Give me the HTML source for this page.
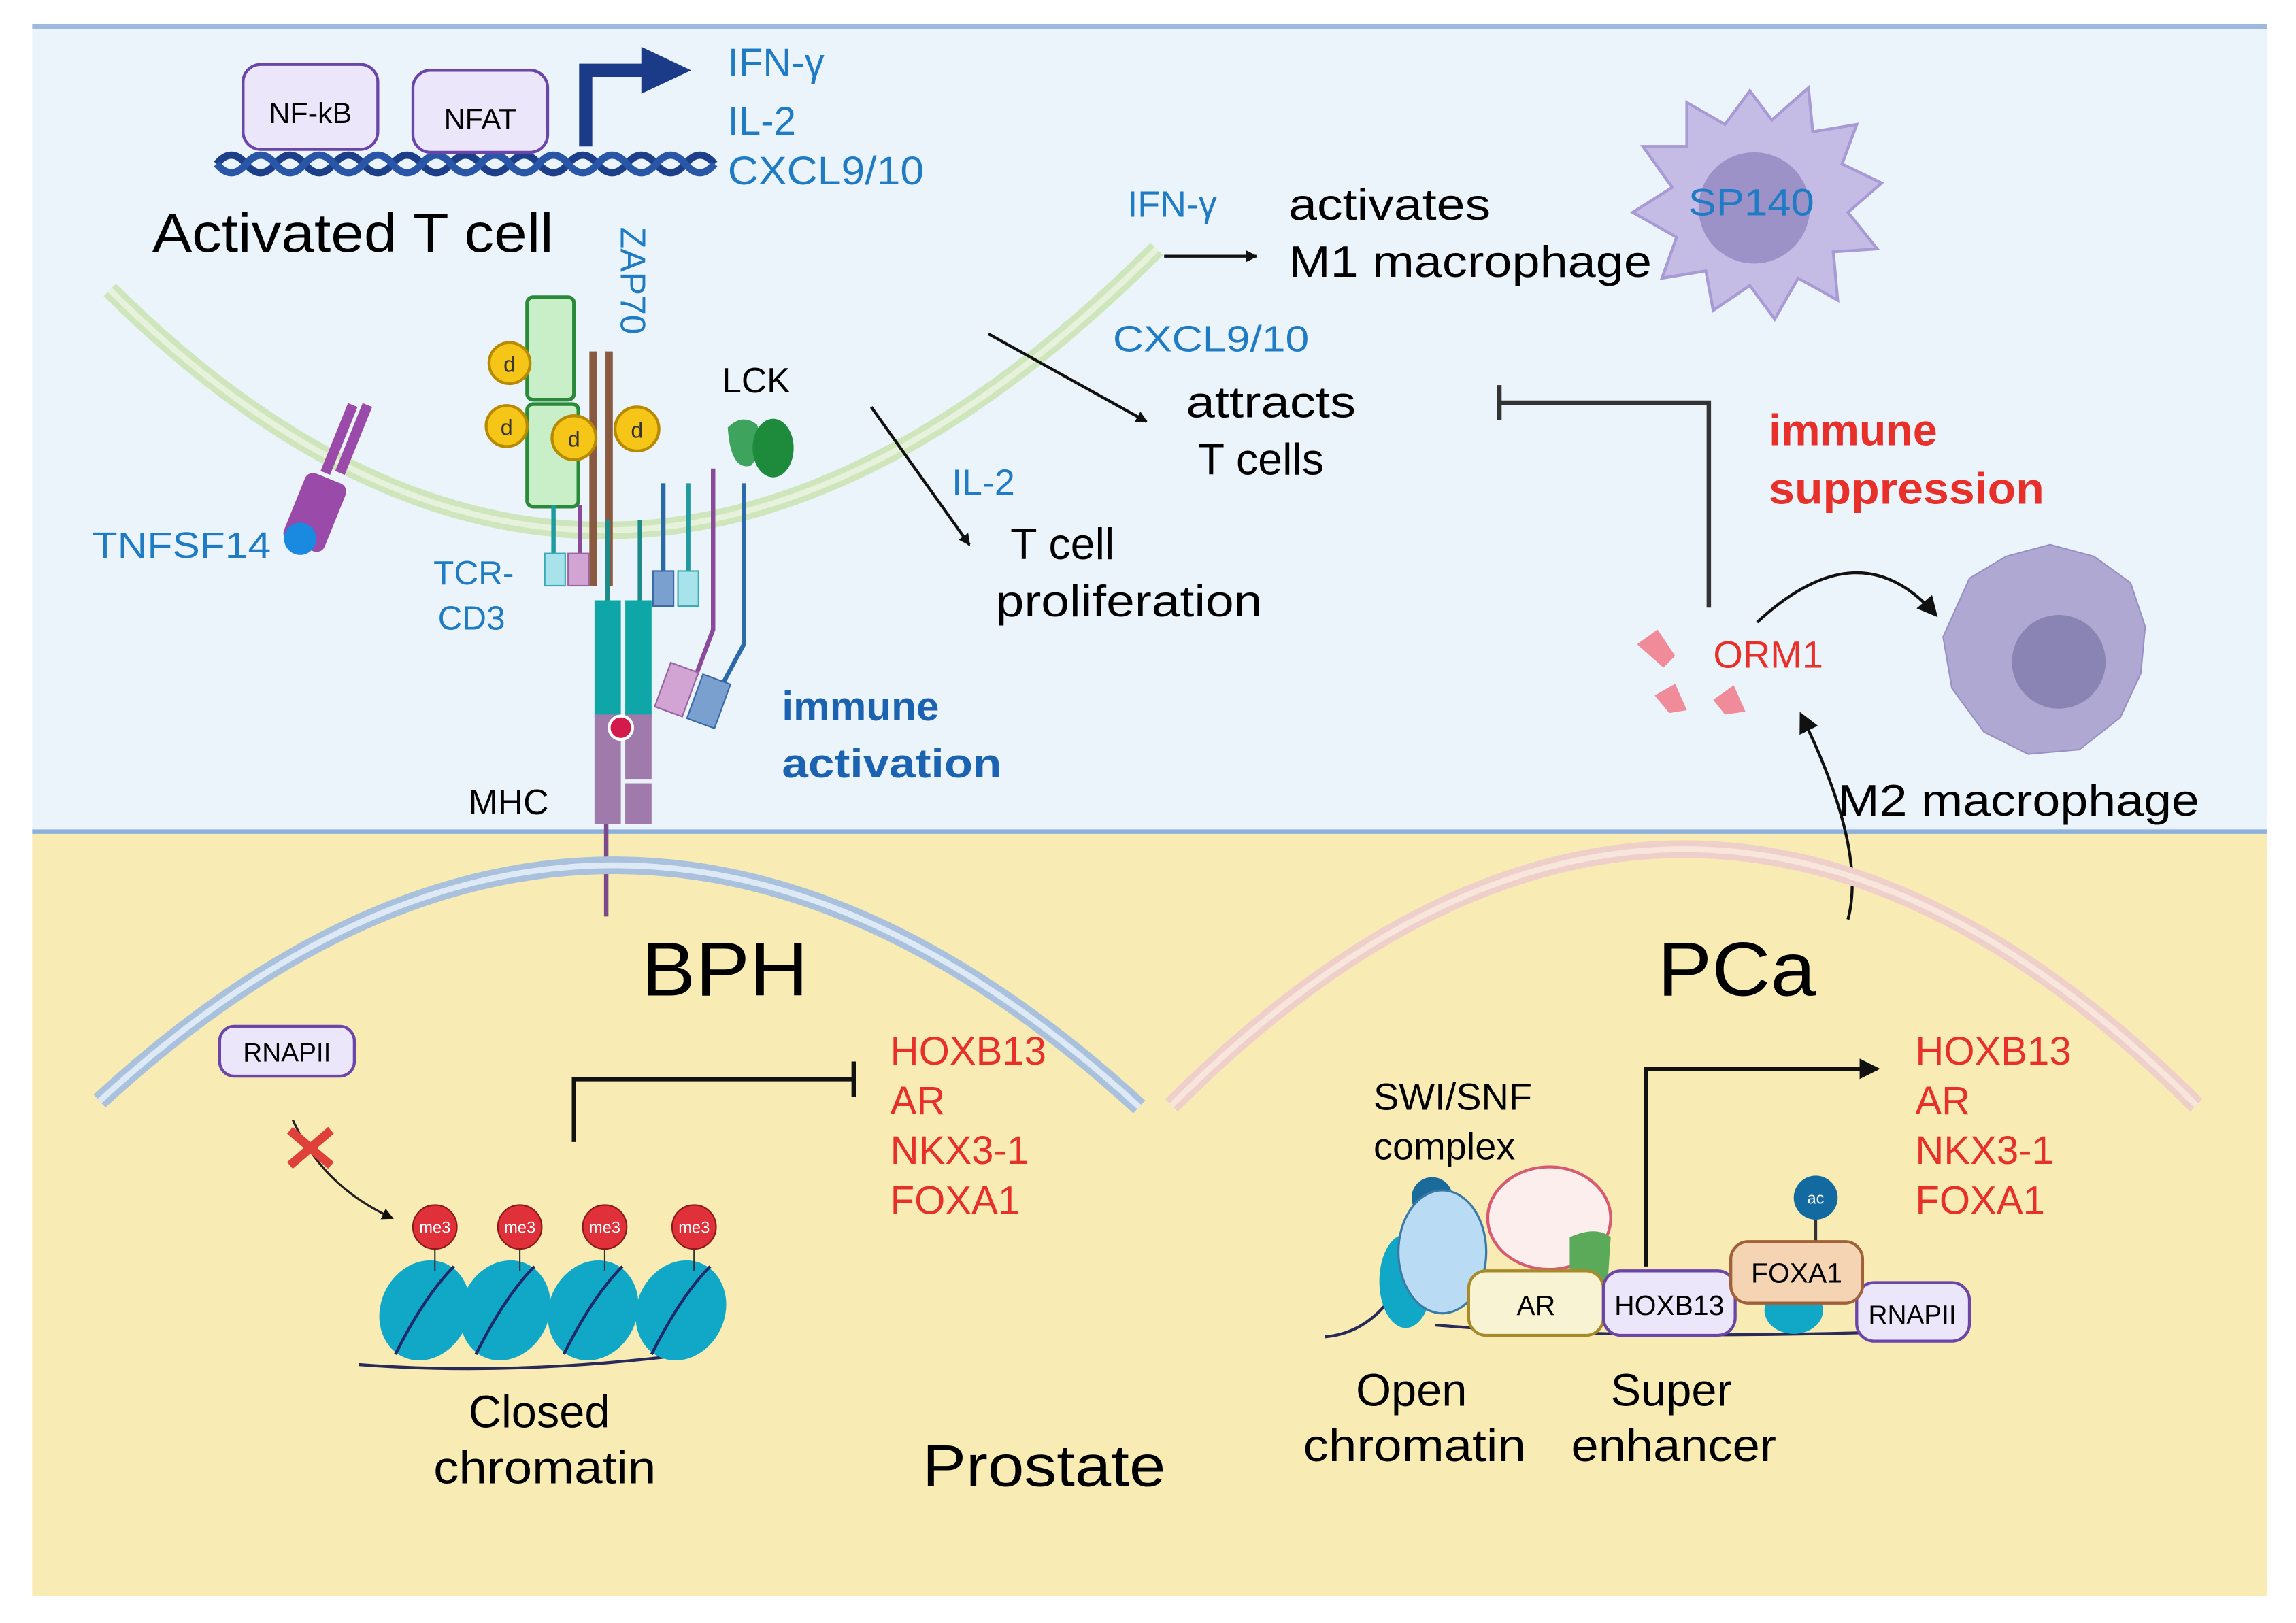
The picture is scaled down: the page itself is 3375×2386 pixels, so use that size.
<!DOCTYPE html>
<html><head><meta charset="utf-8"><style>html,body{margin:0;padding:0;background:#fff}svg{display:block}text{font-family:"Liberation Sans",sans-serif}</style></head><body>
<svg width="3375" height="2386" viewBox="0 0 1568 1108.5" xmlns="http://www.w3.org/2000/svg">
<defs><marker id="ah" markerWidth="8" markerHeight="8" refX="7" refY="4" orient="auto" markerUnits="userSpaceOnUse"><path d="M0,0 L8,4 L0,8 z" fill="#111"/></marker>
<marker id="ah2" markerWidth="14" markerHeight="14" refX="12" refY="7" orient="auto" markerUnits="userSpaceOnUse"><path d="M0,0 L14,7 L0,14 z" fill="#111"/></marker></defs>
<rect x="0" y="0" width="1568" height="1108.5" fill="#fff"/>
<rect x="22" y="18" width="1526" height="550" fill="#ebf3fb"/>
<rect x="22" y="568" width="1526" height="522" fill="#f8ebb3"/>
<line x1="22" y1="18" x2="1548" y2="18" stroke="#9db9dd" stroke-width="3"/>
<line x1="22" y1="568" x2="1548" y2="568" stroke="#8fb0dc" stroke-width="3"/>
<!-- DNA -->
<path d="M148,112 q10,-12 20,0 t20,0 t20,0 t20,0 t20,0 t20,0 t20,0 t20,0 t20,0 t20,0 t20,0 t20,0 t20,0 t20,0 t20,0 t20,0 t20,0" fill="none" stroke="#1d3f8a" stroke-width="5"/>
<path d="M148,112 q10,12 20,0 t20,0 t20,0 t20,0 t20,0 t20,0 t20,0 t20,0 t20,0 t20,0 t20,0 t20,0 t20,0 t20,0 t20,0 t20,0 t20,0" fill="none" stroke="#2a56a8" stroke-width="5"/>
<rect x="166" y="44" width="92" height="58" rx="12" fill="#ece6fb" stroke="#6a46a8" stroke-width="2"/>
<text x="212" y="84" font-size="20" text-anchor="middle">NF-kB</text>
<rect x="282" y="48" width="92" height="56" rx="12" fill="#ece6fb" stroke="#6a46a8" stroke-width="2"/>
<text x="328" y="88" font-size="20" text-anchor="middle">NFAT</text>
<path d="M400,100 V48 H440" fill="none" stroke="#1b3a87" stroke-width="9"/>
<path d="M438,32 L472,48 L438,64 z" fill="#1b3a87"/>
<g fill="#1f7cc4" font-size="27"><text x="497" y="52">IFN-γ</text><text x="497" y="92">IL-2</text><text x="497" y="126" textLength="134" lengthAdjust="spacingAndGlyphs">CXCL9/10</text></g>
<text x="104" y="172" font-size="37" textLength="274" lengthAdjust="spacingAndGlyphs">Activated T cell</text>
<!-- membrane -->
<path d="M75,198 Q420,540 790,170" fill="none" stroke="#cfe6bd" stroke-width="12"/>
<path d="M75,198 Q420,540 790,170" fill="none" stroke="#e6f2dc" stroke-width="4"/>
<!-- TCR stuff -->
<rect x="360" y="203" width="32" height="70" rx="4" fill="#c9efc9" stroke="#2a8a3a" stroke-width="2.5"/>
<rect x="360" y="276" width="35" height="70" rx="4" fill="#c9efc9" stroke="#2a8a3a" stroke-width="2.5"/>
<line x1="405" y1="240" x2="405" y2="400" stroke="#8a5a40" stroke-width="5"/>
<line x1="416" y1="240" x2="416" y2="400" stroke="#8a5a40" stroke-width="5"/>
<g fill="#f5c518" stroke="#b78a00" stroke-width="2"><circle cx="348" cy="248" r="14"/><circle cx="346" cy="291" r="14"/><circle cx="392" cy="299" r="15"/><circle cx="435" cy="293" r="15"/></g>
<g font-size="15" text-anchor="middle" fill="#333"><text x="348" y="254">d</text><text x="346" y="297">d</text><text x="392" y="305">d</text><text x="435" y="299">d</text></g>
<text transform="translate(424,155) rotate(90)" font-size="24" fill="#1f7cc4">ZAP70</text>
<text x="493" y="268" font-size="24">LCK</text>
<path d="M497,292 q10,-10 20,-2 q6,15 -4,28 q-14,4 -16,-26z" fill="#3da35d"/>
<ellipse cx="528" cy="306" rx="14" ry="20" fill="#1e8a3c"/>
<line x1="378" y1="345" x2="378" y2="380" stroke="#1e9aa0" stroke-width="3"/>
<line x1="396" y1="345" x2="396" y2="380" stroke="#8a4a9a" stroke-width="3"/>
<rect x="372" y="378" width="14" height="22" fill="#a8e2ea" stroke="#3aaab4"/>
<rect x="388" y="378" width="14" height="22" fill="#d1a4d4" stroke="#9a64a4"/>
<line x1="453" y1="330" x2="453" y2="392" stroke="#2b6aa8" stroke-width="3"/>
<line x1="470" y1="330" x2="470" y2="392" stroke="#1e9aa0" stroke-width="3"/>
<rect x="446" y="390" width="14" height="24" fill="#7aa0d0" stroke="#3a6aa8"/>
<rect x="463" y="390" width="14" height="24" fill="#a8e2ea" stroke="#3aaab4"/>
<path d="M487,320 V430 L475,462" fill="none" stroke="#8a4a9a" stroke-width="3"/>
<path d="M508,330 V440 L492,470" fill="none" stroke="#2b6aa8" stroke-width="3"/>
<rect x="452" y="455" width="20" height="32" fill="#d1a4d4" stroke="#9a64a4" transform="rotate(20 462 471)"/>
<rect x="474" y="463" width="20" height="32" fill="#7aa0d0" stroke="#3a6aa8" transform="rotate(20 484 479)"/>
<line x1="415" y1="355" x2="415" y2="410" stroke="#1e8a8a" stroke-width="3"/>
<line x1="437" y1="355" x2="437" y2="410" stroke="#1e8a8a" stroke-width="3"/>
<rect x="406" y="410" width="18" height="80" fill="#0ea6a6"/>
<rect x="427" y="410" width="18" height="80" fill="#0ea6a6"/>
<rect x="406" y="488" width="18" height="75" fill="#a07aaa"/>
<rect x="427" y="488" width="18" height="44" fill="#a07aaa"/>
<rect x="427" y="535" width="18" height="28" fill="#a07aaa"/>
<circle cx="424" cy="497" r="8" fill="#d41a4a" stroke="#fff" stroke-width="2"/>
<line x1="414" y1="563" x2="414" y2="626" stroke="#7a4a8a" stroke-width="3"/>
<text x="320" y="556" font-size="24">MHC</text>
<g fill="#1f7cc4" font-size="23"><text x="296" y="399">TCR-</text><text x="299" y="430">CD3</text></g>
<g fill="#9a4aa8"><rect x="228" y="275" width="7" height="50" transform="rotate(22 232 300)"/><rect x="238" y="275" width="7" height="50" transform="rotate(22 242 300)"/><rect x="200" y="325" width="30" height="50" rx="6" transform="rotate(22 215 350)"/></g>
<circle cx="205" cy="368" r="11" fill="#1a8ae0"/>
<text x="63" y="381" font-size="25" fill="#1f7cc4" textLength="122" lengthAdjust="spacingAndGlyphs">TNFSF14</text>
<g font-size="28" font-weight="bold" fill="#1b62b0"><text x="534" y="492">immune</text><text x="534" y="531" textLength="150" lengthAdjust="spacingAndGlyphs">activation</text></g>
<!-- arrows -->
<text x="770" y="148" font-size="25" fill="#1f7cc4">IFN-γ</text>
<line x1="795" y1="175" x2="858" y2="175" stroke="#111" stroke-width="2" marker-end="url(#ah)"/>
<g font-size="30"><text x="880" y="150" textLength="138" lengthAdjust="spacingAndGlyphs">activates</text><text x="880" y="189" textLength="248" lengthAdjust="spacingAndGlyphs">M1 macrophage</text></g>
<text x="760" y="240" font-size="25" fill="#1f7cc4" textLength="134" lengthAdjust="spacingAndGlyphs">CXCL9/10</text>
<line x1="675" y1="228" x2="783" y2="288" stroke="#111" stroke-width="2" marker-end="url(#ah)"/>
<g font-size="30"><text x="810" y="285" textLength="116" lengthAdjust="spacingAndGlyphs">attracts</text><text x="818" y="324">T cells</text></g>
<text x="650" y="338" font-size="25" fill="#1f7cc4">IL-2</text>
<line x1="595" y1="278" x2="662" y2="372" stroke="#111" stroke-width="2" marker-end="url(#ah)"/>
<g font-size="30"><text x="690" y="382">T cell</text><text x="680" y="421" textLength="182" lengthAdjust="spacingAndGlyphs">proliferation</text></g>
<!-- SP140 cell -->
<path d="M1195,62 L1210,82 L1235,60 L1238,90 L1268,85 L1258,112 L1285,125 L1262,145 L1282,170 L1252,172 L1255,205 L1228,190 L1212,218 L1195,195 L1170,212 L1165,185 L1135,190 L1145,162 L1115,145 L1142,128 L1122,100 L1152,100 L1152,70 L1178,85 z" fill="#c5bce6" stroke="#a89ad4" stroke-width="2"/>
<circle cx="1198" cy="142" r="38" fill="#9d92c8"/>
<text x="1153" y="147" font-size="26" fill="#1f7cc4" textLength="86" lengthAdjust="spacingAndGlyphs">SP140</text>
<!-- suppression -->
<path d="M1167,415 V275 H1024" fill="none" stroke="#333" stroke-width="3"/>
<line x1="1024" y1="263" x2="1024" y2="287" stroke="#333" stroke-width="3"/>
<g font-size="30" font-weight="bold" fill="#e8302a"><text x="1208" y="304">immune</text><text x="1208" y="344" textLength="188" lengthAdjust="spacingAndGlyphs">suppression</text></g>
<g fill="#f08b9a"><path d="M1118,440 l14,-10 l12,18 l-8,8z"/><path d="M1130,475 l14,-8 l8,18 l-12,2z"/><path d="M1170,478 l14,-10 l8,18 l-14,2z"/></g>
<text x="1170" y="456" font-size="26" fill="#e8302a">ORM1</text>
<path d="M1200,425 Q1270,360 1322,420" fill="none" stroke="#111" stroke-width="2" marker-end="url(#ah2)"/>
<path d="M1262,628 Q1275,580 1230,488" fill="none" stroke="#111" stroke-width="2" marker-end="url(#ah2)"/>
<path d="M1345,395 L1370,380 L1400,372 L1430,380 L1455,398 L1465,428 L1462,460 L1448,490 L1420,512 L1385,515 L1355,500 L1333,470 L1327,435 z" fill="#aea8d2" stroke="#9890c4"/>
<circle cx="1406" cy="452" r="32" fill="#8a84b4"/>
<text x="1255" y="557" font-size="30" textLength="247" lengthAdjust="spacingAndGlyphs">M2 macrophage</text>
<!-- bottom arcs -->
<path d="M68,752 Q420,428 778,756" fill="none" stroke="#a9c1dc" stroke-width="12"/>
<path d="M68,752 Q420,428 778,756" fill="none" stroke="#dde9f5" stroke-width="4"/>
<path d="M800,755 Q1150,405 1500,755" fill="none" stroke="#efcfc9" stroke-width="12"/>
<path d="M800,755 Q1150,405 1500,755" fill="none" stroke="#f8e6dd" stroke-width="4"/>
<text x="438" y="680" font-size="52" textLength="114" lengthAdjust="spacingAndGlyphs">BPH</text>
<text x="1132" y="680" font-size="52" textLength="108" lengthAdjust="spacingAndGlyphs">PCa</text>
<!-- BPH -->
<rect x="150" y="701" width="92" height="34" rx="10" fill="#ece6fb" stroke="#6a46a8" stroke-width="2"/>
<text x="196" y="725" font-size="18" text-anchor="middle">RNAPII</text>
<path d="M200,765 Q220,810 268,832" fill="none" stroke="#222" stroke-width="1.5" marker-end="url(#ah)"/>
<path d="M198,772 L226,796 M226,772 L198,796" stroke="#e0403a" stroke-width="6"/>
<path d="M392,780 V737 H582" fill="none" stroke="#111" stroke-width="3"/>
<line x1="583" y1="725" x2="583" y2="749" stroke="#111" stroke-width="3"/>
<g font-size="27" fill="#e8302a"><text x="608" y="727">HOXB13</text><text x="608" y="761">AR</text><text x="608" y="795">NKX3-1</text><text x="608" y="829">FOXA1</text></g>
<path d="M245,932 Q350,940 470,925" fill="none" stroke="#2a2a5a" stroke-width="2"/>
<g fill="#11a8c8"><ellipse cx="290" cy="895" rx="30" ry="35" transform="rotate(25 290 895)"/><ellipse cx="345" cy="895" rx="30" ry="35" transform="rotate(25 345 895)"/><ellipse cx="405" cy="895" rx="30" ry="35" transform="rotate(25 405 895)"/><ellipse cx="465" cy="895" rx="30" ry="35" transform="rotate(25 465 895)"/></g>
<g stroke="#1d2a6a" stroke-width="2" fill="none"><path d="M270,925 q20,-40 40,-60"/><path d="M325,925 q20,-40 40,-60"/><path d="M385,925 q20,-40 40,-60"/><path d="M445,925 q20,-40 40,-60"/></g>
<g stroke="#333"><line x1="297" y1="850" x2="297" y2="868"/><line x1="355" y1="850" x2="355" y2="868"/><line x1="413" y1="850" x2="413" y2="868"/><line x1="474" y1="850" x2="474" y2="868"/></g>
<g fill="#e0303a" stroke="#8a1a1a"><circle cx="297" cy="838" r="15"/><circle cx="355" cy="838" r="15"/><circle cx="413" cy="838" r="15"/><circle cx="474" cy="838" r="15"/></g>
<g font-size="11" fill="#fff" text-anchor="middle"><text x="297" y="842">me3</text><text x="355" y="842">me3</text><text x="413" y="842">me3</text><text x="474" y="842">me3</text></g>
<g font-size="31"><text x="320" y="975">Closed</text><text x="296" y="1013" textLength="152" lengthAdjust="spacingAndGlyphs">chromatin</text></g>
<text x="630" y="1015" font-size="40" textLength="166" lengthAdjust="spacingAndGlyphs">Prostate</text>
<!-- PCa -->
<path d="M1124,865 V730 H1282" fill="none" stroke="#111" stroke-width="3" marker-end="url(#ah2)"/>
<g font-size="27" fill="#e8302a"><text x="1308" y="727">HOXB13</text><text x="1308" y="761">AR</text><text x="1308" y="795">NKX3-1</text><text x="1308" y="829">FOXA1</text></g>
<g font-size="26"><text x="938" y="758">SWI/SNF</text><text x="938" y="792">complex</text></g>
<path d="M905,913 Q940,910 960,870 M980,905 Q1100,915 1280,910" fill="none" stroke="#2a2a5a" stroke-width="2"/>
<ellipse cx="960" cy="875" rx="18" ry="32" fill="#11a8c8"/>
<circle cx="978" cy="818" r="14" fill="#1a6a9a"/>
<ellipse cx="985" cy="855" rx="30" ry="42" fill="#b9dcf4" stroke="#3a7aa8" stroke-width="1.5"/>
<ellipse cx="1058" cy="832" rx="42" ry="35" fill="#fdeeee" stroke="#d85a70" stroke-width="2"/>
<path d="M1072,845 q18,-8 28,0 l-2,30 h-26z" fill="#5aaa5a"/>
<ellipse cx="1225" cy="895" rx="20" ry="16" fill="#11a8c8"/>
<rect x="1003" y="868" width="92" height="44" rx="12" fill="#f8f3d2" stroke="#a88a2a" stroke-width="2"/>
<text x="1049" y="898" font-size="19" text-anchor="middle">AR</text>
<rect x="1095" y="868" width="90" height="44" rx="12" fill="#ece6fb" stroke="#6a46a8" stroke-width="2"/>
<text x="1140" y="898" font-size="19" text-anchor="middle">HOXB13</text>
<line x1="1240" y1="832" x2="1240" y2="850" stroke="#333" stroke-width="2"/>
<circle cx="1240" cy="818" r="15" fill="#136aa0"/>
<text x="1240" y="822" font-size="11" fill="#fff" text-anchor="middle">ac</text>
<rect x="1268" y="876" width="77" height="40" rx="12" fill="#ece6fb" stroke="#6a46a8" stroke-width="2"/>
<text x="1306" y="904" font-size="18" text-anchor="middle">RNAPII</text>
<rect x="1182" y="848" width="90" height="42" rx="12" fill="#f5d4b4" stroke="#a0603a" stroke-width="2"/>
<text x="1227" y="876" font-size="19" text-anchor="middle">FOXA1</text>
<g font-size="31"><text x="926" y="960">Open</text><text x="890" y="998" textLength="152" lengthAdjust="spacingAndGlyphs">chromatin</text><text x="1100" y="960">Super</text><text x="1073" y="998" textLength="140" lengthAdjust="spacingAndGlyphs">enhancer</text></g>
</svg>
</body></html>
